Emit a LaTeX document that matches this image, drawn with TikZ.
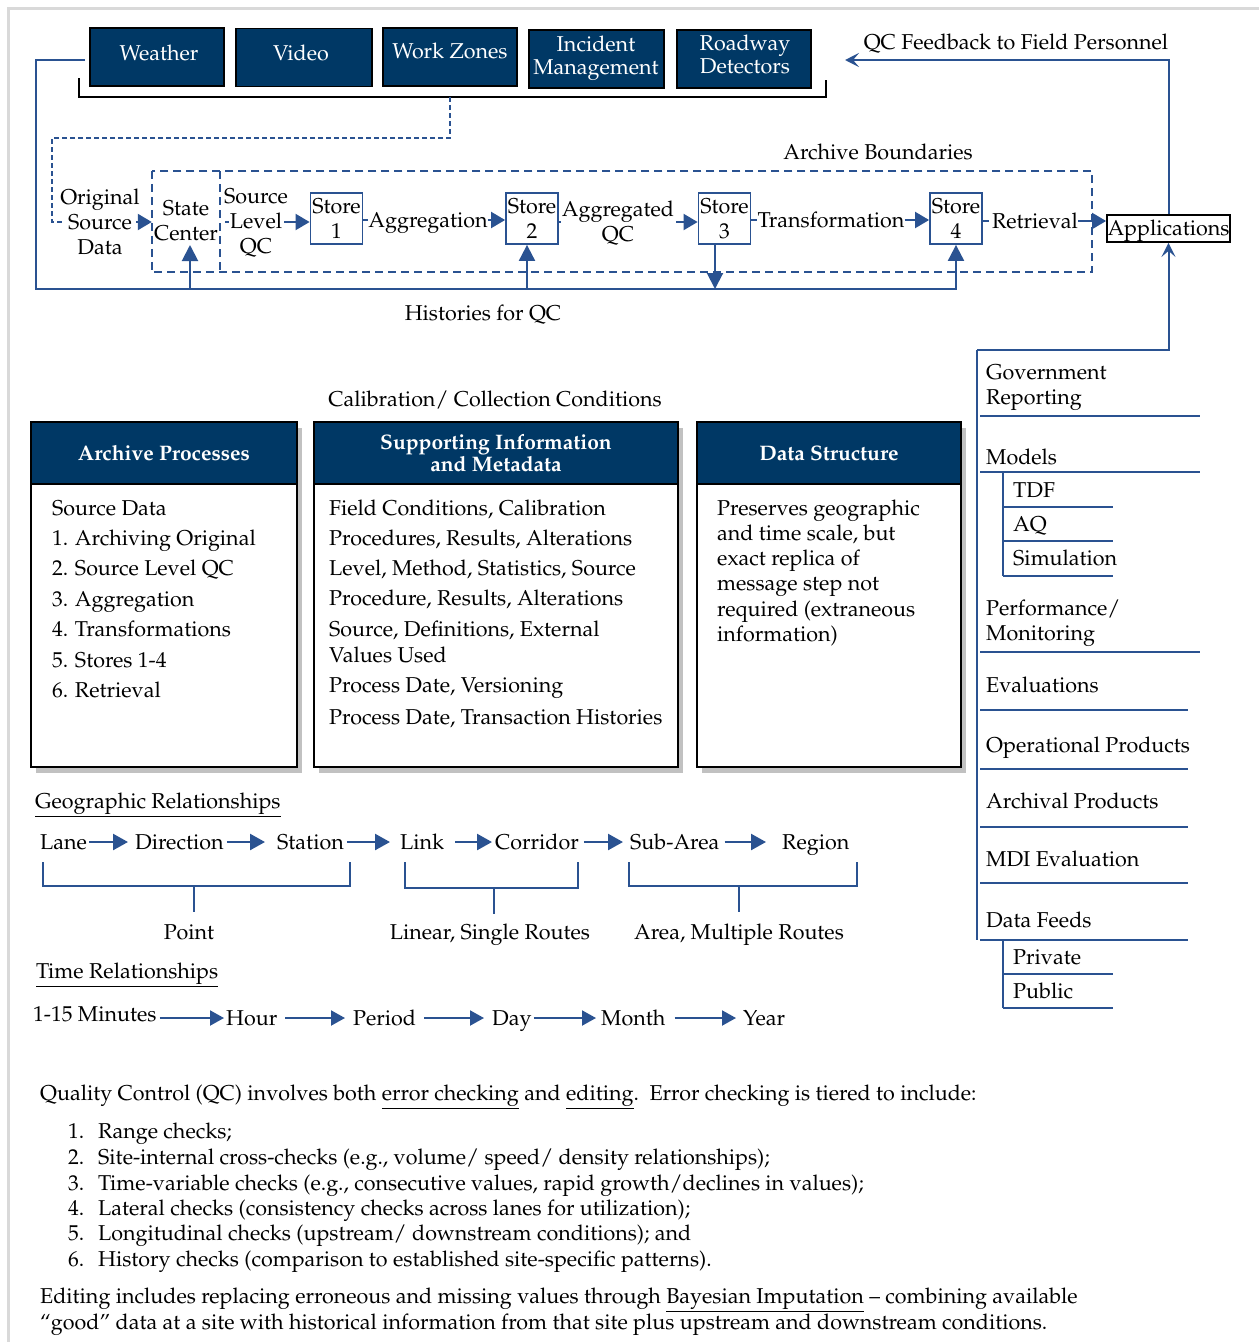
\documentclass[tikz,border=0pt]{standalone}
\usepackage[T1]{fontenc}
\renewcommand{\rmdefault}{ppl}
\usetikzlibrary{arrows.meta,shadows}
\definecolor{navy}{RGB}{0,56,101}
\definecolor{lb}{RGB}{42,82,145}
\definecolor{framegray}{RGB}{217,217,217}
\newcommand{\fs}{\fontsize{21.5}{25}\selectfont}
\newcommand{\fsb}{\fontsize{21.5}{23}\selectfont}
\newcommand{\fsh}{\fontsize{21}{22}\selectfont\bfseries}
\begin{document}
\begin{tikzpicture}[x=1pt,y=-1pt,
  every node/.style={font=\fs, inner sep=0pt},
  lbl/.style={text height=19pt, text depth=4.5pt},
  ml/.style={align=center},
  mll/.style={align=left, anchor=west},
  srcbox/.style={draw=black, line width=1.6pt, fill=navy, minimum height=58pt},
  srctext/.style={text=white, align=center, font=\fsb},
  storebox/.style={draw=lb, line width=1.8pt, minimum width=52pt, minimum height=51pt, align=center},
  bline/.style={draw=lb, line width=1.6pt},
  dashone/.style={draw=lb, line width=1.5pt, dash pattern=on 5pt off 3pt},
  dashtwo/.style={draw=lb, line width=1.8pt, dash pattern=on 8pt off 5pt},
  flow/.style={draw=lb, line width=2pt, -{Triangle[length=14pt,width=16pt]}},
  hist/.style={draw=lb, line width=2pt, -{Triangle[length=16pt,width=16pt]}},
  fback/.style={draw=lb, line width=2pt, -{Stealth[length=14pt,width=14pt,inset=6pt]}},
  panel/.style={draw=black, line width=2.5pt, fill=white, drop shadow={shadow xshift=5pt, shadow yshift=-6pt, fill=black!40, opacity=0.6}},
  hdr/.style={draw=black, line width=2.5pt, fill=navy, text=white, font=\fsh, align=center, minimum height=62pt},
  listline/.style={draw=lb, line width=1.8pt},
  brk/.style={draw=lb, line width=1.5pt},
  geoarr/.style={draw=lb, line width=2.4pt, -{Triangle[length=15pt,width=16pt]}},
  timearr/.style={draw=lb, line width=2pt, -{Triangle[length=14pt,width=15pt]}}
]
\useasboundingbox (0,0) rectangle (1259,1342);
\fill[white] (0,0) rectangle (1259,1342);
\draw[framegray, line width=3pt] (8,1342) -- (8,8) -- (1259,8);

% ---------- data sources ----------
\node[srcbox, minimum width=134pt] (weather) at (157,57) {};
\node[srcbox, minimum width=136pt] (video) at (304,57.5) {};
\node[srcbox, minimum width=134pt] (work) at (450,57) {};
\node[srcbox, minimum width=135pt] (incident) at (596.5,59) {};
\node[srcbox, minimum width=134pt] (roadway) at (744,59) {};
\node[srctext, lbl] (weathert) at (159,53) {Weather};
\node[srctext, lbl] (videot) at (301,53) {Video};
\node[srctext, lbl] (workt) at (450,51) {Work Zones};
\node[srctext] (incidentt) at (596,58) {Incident\\Management};
\node[srctext] (roadwayt) at (745,54.5) {Roadway\\Detectors};
\draw[black, line width=2pt] (79,78) -- (79,97) -- (826,97) -- (826,80);
\coordinate (brmid) at (450,97);
\coordinate (osdin) at (62,222);
\draw[dashone] (brmid) -- (450,138) -- (52,138) -- (52,222) -- (osdin);

% ---------- archive flow ----------
\node[draw=none, minimum width=940pt, minimum height=101pt] (archive) at (622,221.5) {};
\draw[dashtwo] (archive.north west) rectangle (archive.south east);
\draw[dashtwo] (220,171) -- (220,272);
\node[lbl] (archlbl) at (878,152) {Archive Boundaries};
\node[minimum width=68pt, minimum height=101pt] (scbox) at (186,221.5) {};

\node[ml] (osd) at (100,222) {Original\\Source\\Data};
\coordinate (osdout) at (136,222);
\draw[flow] (osdout) -- (osdout -| scbox.west);
\node[ml] (sctext) at (186,221) {State\\Center};
\node[ml] (slqc) at (256,223) {Source\\Level\\QC};
\draw[bline] (225,222) -- (229,222);
\coordinate (lvl) at (284,222);

\node[storebox] (store1) at (336.5,218.5) {Store\\1};
\node[storebox] (store2) at (532,218.5) {Store\\2};
\node[storebox] (store3) at (724.5,218.5) {Store\\3};
\node[storebox] (store4) at (956,218.5) {Store\\4};
\node[draw=black, line width=1.8pt, minimum width=123pt, minimum height=27pt] (apps) at (1168.5,228.5) {};
\node[lbl] (appst) at (1168.5,228) {Applications};

\draw[flow] (lvl) -- (lvl -| store1.west);
\node[lbl] (aggr) at (428,220) {Aggregation};
\draw[bline] (store1.east |- aggr) -- (aggr.west);
\draw[flow] (aggr.east) -- (aggr.east -| store2.west);
\node[ml] (aggqc) at (618,223.5) {Aggregated\\QC};
\coordinate (aggqcin) at (561,222);
\draw[bline] (store2.east |- aggqcin) -- (aggqcin);
\coordinate (aggqcout) at (676,222);
\draw[flow] (aggqcout) -- (aggqcout -| store3.west);
\node[lbl] (trans) at (831,220) {Transformation};
\draw[bline] (store3.east |- trans) -- (trans.west);
\draw[flow] (trans.east) -- (trans.east -| store4.west);
\node[lbl] (retr) at (1035,221) {Retrieval};
\draw[bline] (store4.east |- retr) -- ++(6,0);
\draw[flow] (retr.east) -- (retr.east -| apps.west);

% ---------- histories loop ----------
\coordinate (loopy) at (0,289);
\coordinate (loopstart) at (85,60);
\draw[lb, line width=2pt] (loopstart) -- (36,60) -- (36,289) -- (957,289);
\coordinate (scin) at (190,245);
\draw[hist] (scin |- loopy) -- (scin);
\draw[hist] ([xshift=-5pt]store2.south |- loopy) -- ([xshift=-5pt]store2.south);
\draw[hist] ([xshift=-9.5pt]store3.south) -- ([xshift=-9.5pt]store3.south |- loopy);
\draw[hist] (store4.south |- loopy) -- (store4.south);
\node[lbl] (hist) at (483,313) {Histories for QC};

% ---------- feedback ----------
\coordinate (fbend) at (845,60);
\draw[fback] (apps.north) -- (apps.north |- fbend) -- (fbend);
\node[lbl] (fblbl) at (1016,42) {QC Feedback to Field Personnel};

% ---------- applications list ----------
\coordinate (appsbr) at (977,350);
\draw[fback] (appsbr) -| (apps.south);
\draw[listline] (appsbr) -- (977,940);
\node[mll] (gov) at (986,388) {Government\\Reporting};
\draw[listline] (980,416) -- (1200,416);
\node[lbl, anchor=west] (models) at (986,457) {Models};
\draw[listline] (980,472) -- (1200,472);
\draw[listline] (1003,472) -- (1003,576);
\node[lbl, anchor=west] (tdf) at (1013,490) {TDF};
\draw[listline] (1003,507) -- (1113,507);
\node[lbl, anchor=west] (aq) at (1013,524) {AQ};
\draw[listline] (1003,541) -- (1113,541);
\node[lbl, anchor=west] (sim) at (1013,558) {Simulation};
\draw[listline] (1003,576) -- (1113,576);
\node[mll] (perf) at (986,623) {Performance/\\Monitoring};
\draw[listline] (980,652) -- (1200,652);
\node[lbl, anchor=west] (eval) at (986,685) {Evaluations};
\draw[listline] (980,710) -- (1188,710);
\node[lbl, anchor=west] (oper) at (986,745) {Operational Products};
\draw[listline] (980,769) -- (1188,769);
\node[lbl, anchor=west] (archp) at (986,801) {Archival Products};
\draw[listline] (980,827) -- (1188,827);
\node[lbl, anchor=west] (mdi) at (986,859) {MDI Evaluation};
\draw[listline] (980,883) -- (1188,883);
\node[lbl, anchor=west] (feeds) at (986,920) {Data Feeds};
\draw[listline] (980,940) -- (1188,940);
\draw[listline] (1003,940) -- (1003,1008);
\node[lbl, anchor=west] (priv) at (1013,957) {Private};
\draw[listline] (1003,974) -- (1113,974);
\node[lbl, anchor=west] (pub) at (1013,991) {Public};
\draw[listline] (1003,1008) -- (1113,1008);

% ---------- panels ----------
\node[lbl] (calib) at (495,399) {Calibration/ Collection Conditions};
\node[panel, minimum width=266pt, minimum height=345pt] (ap) at (164,594.5) {};
\node[hdr, minimum width=266pt] (aph) at (164,453) {Archive Processes};
\node[panel, minimum width=364pt, minimum height=345pt] (si) at (496,594.5) {};
\node[hdr, minimum width=364pt] (sih) at (496,453) {Supporting Information\\and Metadata};
\node[panel, minimum width=264pt, minimum height=345pt] (ds) at (829,594.5) {};
\node[hdr, minimum width=264pt] (dsh) at (829,453) {Data Structure};

\foreach \yy/\txt [count=\i] in {508/Source Data, 538/1. Archiving Original, 568/2. Source Level QC, 599/3. Aggregation, 629/4. Transformations, 660/5. Stores 1-4, 690/6. Retrieval}
  \node[lbl, anchor=west] (apl\i) at (52,\yy) {\txt};
\foreach \yy/\txt [count=\i] in {508/{Field Conditions, Calibration}, 538/{Procedures, Results, Alterations}, 568/{Level, Method, Statistics, Source}, 598/{Procedure, Results, Alterations}, 629/{Source, Definitions, External}, 655/{Values Used}, 685/{Process Date, Versioning}, 717/{Process Date, Transaction Histories}}
  \node[lbl, anchor=west] (sil\i) at (329,\yy) {\txt};
\foreach \yy/\txt [count=\i] in {508/{Preserves geographic}, 533/{and time scale, but}, 558/{exact replica of}, 583/{message step not}, 609/{required (extraneous}, 634/{information)}}
  \node[lbl, anchor=west] (dsl\i) at (717,\yy) {\txt};

% ---------- geographic relationships ----------
\node[lbl, anchor=west] (geohead) at (35,801) {\underline{Geographic Relationships}};
\node[lbl, anchor=west] (lane) at (40,842) {Lane};
\node[lbl, anchor=west] (direction) at (135,842) {Direction};
\node[lbl, anchor=west] (station) at (277,842) {Station};
\node[lbl, anchor=west] (link) at (400,842) {Link};
\node[lbl, anchor=west] (corridor) at (495,842) {Corridor};
\node[lbl, anchor=west] (subarea) at (630,842) {Sub-Area};
\node[lbl, anchor=west] (region) at (782,842) {Region};
\draw[geoarr, shorten <=2pt, shorten >=7pt] (lane.east) -- (direction.west);
\draw[geoarr, shorten <=3pt, shorten >=12pt] (direction.east) -- (station.west);
\draw[geoarr, shorten <=3pt, shorten >=10pt] (station.east) -- (link.west);
\draw[geoarr, shorten <=11pt, shorten >=3pt] (link.east) -- (corridor.west);
\draw[geoarr, shorten <=5pt, shorten >=7pt] (corridor.east) -- (subarea.west);
\draw[geoarr, shorten <=5pt, shorten >=16pt] (subarea.east) -- (region.west);

\node[lbl] (point) at (189,932) {Point};
\node[lbl] (linear) at (490,932) {Linear, Single Routes};
\node[lbl] (area) at (739,932) {Area, Multiple Routes};
\draw[brk] (43,862) -- (43,886) -- (350,886) -- (350,862);
\draw[brk] (194,886) -- (194,912);
\draw[brk] (405,862) -- (405,888) -- (578,888) -- (578,862);
\draw[brk] (494,888) -- (494,914);
\draw[brk] (629,862) -- (629,886) -- (857,886) -- (857,862);
\draw[brk] (739,886) -- (739,912);

% ---------- time relationships ----------
\node[lbl, anchor=west] (timehead) at (36,971) {\underline{Time Relationships}};
\node[lbl, anchor=west] (minutes) at (33,1014) {1-15 Minutes};
\node[lbl, anchor=west] (hour) at (226,1018) {Hour};
\node[lbl, anchor=west] (period) at (353,1018) {Period};
\node[lbl, anchor=west] (day) at (492,1018) {Day};
\node[lbl, anchor=west] (month) at (601,1018) {Month};
\node[lbl, anchor=west] (year) at (743,1018) {Year};
\draw[timearr, shorten <=3pt, shorten >=2pt] (minutes.east |- hour) -- (hour.west);
\draw[timearr, shorten <=8pt, shorten >=8pt] (hour.east) -- (period.west);
\draw[timearr, shorten <=8pt, shorten >=8pt] (period.east) -- (day.west);
\draw[timearr, shorten <=2pt, shorten >=5pt] (day.east) -- (month.west);
\draw[timearr, shorten <=9pt, shorten >=7pt] (month.east) -- (year.west);

% ---------- QC text ----------
\node[lbl, anchor=west] (qc) at (40,1093) {Quality Control (QC) involves both \underline{error checking} and \underline{editing}.\ \ Error checking is tiered to include:};
\node[lbl, anchor=west] (n1) at (68,1131) {1.};
\node[lbl, anchor=west] (t1) at (98,1131) {Range checks;};
\node[lbl, anchor=west] (n2) at (68,1157) {2.};
\node[lbl, anchor=west] (t2) at (98,1157) {Site-internal cross-checks (e.g., volume/ speed/ density relationships);};
\node[lbl, anchor=west] (n3) at (68,1183) {3.};
\node[lbl, anchor=west] (t3) at (98,1183) {Time-variable checks (e.g., consecutive values, rapid growth/declines in values);};
\node[lbl, anchor=west] (n4) at (68,1208) {4.};
\node[lbl, anchor=west] (t4) at (98,1208) {Lateral checks (consistency checks across lanes for utilization);};
\node[lbl, anchor=west] (n5) at (68,1233) {5.};
\node[lbl, anchor=west] (t5) at (98,1233) {Longitudinal checks (upstream/ downstream conditions); and};
\node[lbl, anchor=west] (n6) at (68,1259) {6.};
\node[lbl, anchor=west] (t6) at (98,1259) {History checks (comparison to established site-specific patterns).};
\node[lbl, anchor=west] (ed1) at (40,1296) {Editing includes replacing erroneous and missing values through \underline{Bayesian Imputation} -- combining available};
\node[lbl, anchor=west] (ed2) at (40,1322) {``good'' data at a site with historical information from that site plus upstream and downstream conditions.};
\end{tikzpicture}
\end{document}
